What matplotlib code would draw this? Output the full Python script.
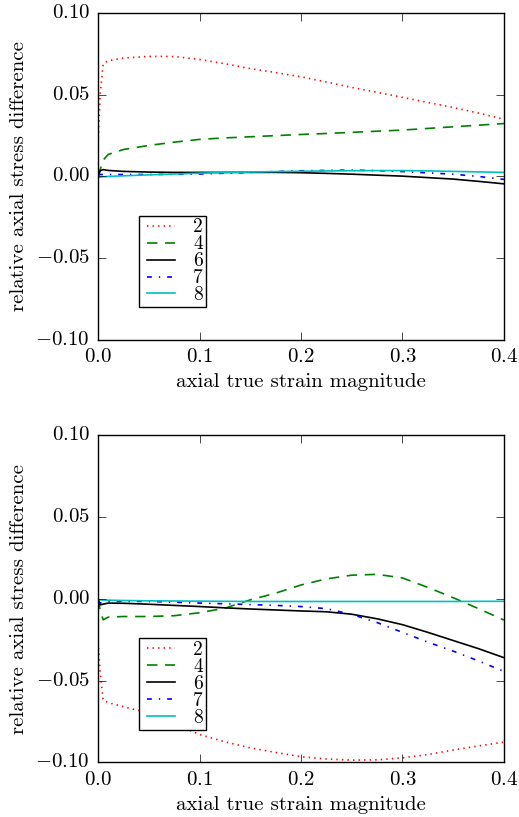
import numpy as np
import matplotlib
matplotlib.use("Agg")
import matplotlib.pyplot as plt

plt.style.use("classic")
plt.rcParams["font.family"] = "serif"
plt.rcParams["font.serif"] = ["cmr10"]
plt.rcParams["mathtext.fontset"] = "cm"
plt.rcParams["axes.formatter.use_mathtext"] = True
plt.rcParams["axes.unicode_minus"] = True

# strain grid
strain = [0, 0.002, 0.005, 0.01, 0.025, 0.05, 0.075, 0.1, 0.125, 0.15, 0.175,
          0.2, 0.225, 0.25, 0.275, 0.3, 0.325, 0.35, 0.375, 0.4]

labels = ["2", "4", "6", "7", "8"]

# upper panel
top_2 = [0.020, 0.050, 0.069, 0.0708, 0.0725, 0.0735, 0.0734, 0.0716, 0.069, 0.066,
         0.0636, 0.061, 0.0578, 0.0545, 0.0515, 0.0484, 0.0453, 0.0422, 0.0388, 0.035]
top_4 = [0.0, 0.004, 0.010, 0.0135, 0.0165, 0.019, 0.021, 0.0227, 0.0236, 0.0243,
         0.025, 0.0257, 0.0263, 0.027, 0.0277, 0.0284, 0.0294, 0.0304, 0.0314, 0.0324]
top_6 = [0.0, 0.0035, 0.0042, 0.0037, 0.0031, 0.0027, 0.0025, 0.0025, 0.0025, 0.0025,
         0.0025, 0.0023, 0.0019, 0.0014, 0.0008, 0.0002, -0.0007, -0.0016, -0.003, -0.0045]
top_7 = [0.001, 0.0012, 0.0012, 0.0012, 0.0012, 0.0012, 0.0013, 0.0015, 0.002, 0.0025,
         0.003, 0.0035, 0.0037, 0.0039, 0.0036, 0.003, 0.0022, 0.0014, 0.0, -0.0018]
top_8 = [-0.0005, -0.0004, -0.0002, 0.0, 0.0004, 0.001, 0.0015, 0.002, 0.0024, 0.0027,
         0.003, 0.0032, 0.0034, 0.0035, 0.0036, 0.0036, 0.0034, 0.0031, 0.0028, 0.0025]

# lower panel
bot_2 = [-0.0267, -0.045, -0.062, -0.0635, -0.066, -0.0698, -0.0765, -0.083, -0.0875, -0.0912,
         -0.094, -0.0966, -0.098, -0.0987, -0.0985, -0.0973, -0.0953, -0.0925, -0.090, -0.0877]
bot_4 = [0.0, -0.007, -0.0128, -0.0112, -0.0108, -0.0108, -0.0103, -0.0085, -0.0057, -0.0006,
         0.0035, 0.0085, 0.0122, 0.0145, 0.015, 0.0128, 0.007, 0.0007, -0.006, -0.013]
bot_6 = [0.0, -0.0037, -0.0032, -0.0026, -0.0027, -0.0033, -0.004, -0.0047, -0.0055, -0.0062,
         -0.0068, -0.0074, -0.0079, -0.0094, -0.0122, -0.0158, -0.0205, -0.0255, -0.0305, -0.036]
bot_7 = [-0.001, -0.0026, -0.002, -0.0016, -0.0015, -0.0016, -0.002, -0.0026, -0.003, -0.0035,
         -0.004, -0.0047, -0.006, -0.0095, -0.0145, -0.0205, -0.0265, -0.032, -0.038, -0.0444]
bot_8 = [-0.0005, -0.0006, -0.0007, -0.0008, -0.001, -0.0012, -0.0013, -0.0014, -0.0015, -0.0016,
         -0.0016, -0.0016, -0.0016, -0.0016, -0.0016, -0.0016, -0.0016, -0.0016, -0.0015, -0.0015]

styles = [("r", (0, (1, 3))), ("g", (0, (7.5, 5.5))), ("k", "-"),
          ("b", (0, (3.5, 5, 1, 5))), ("c", "-")]

fig = plt.figure(figsize=(5.19, 8.17), dpi=100)
ax1 = fig.add_axes([0.189, 0.584, 0.782, 0.400])
ax2 = fig.add_axes([0.189, 0.067, 0.782, 0.400])

for ax, series in [(ax1, [top_2, top_4, top_6, top_7, top_8]),
                   (ax2, [bot_2, bot_4, bot_6, bot_7, bot_8])]:
    for (c, ls), y, lab in zip(styles, series, labels):
        ax.plot(strain, y, color=c, linestyle=ls, linewidth=1.2, label=lab)
    ax.set_xlim(0, 0.4)
    ax.set_ylim(-0.1, 0.1)
    ax.set_xticks([0.0, 0.1, 0.2, 0.3, 0.4])
    ax.set_yticks([-0.1, -0.05, 0.0, 0.05, 0.1])
    ax.tick_params(labelsize=15, length=6, pad=6)
    ax.set_xlabel("axial true strain magnitude", fontsize=15)
    ax.set_ylabel("relative axial stress difference", fontsize=15)
    ax.legend(loc="lower left", bbox_to_anchor=(0.1, 0.1), borderaxespad=0,
              fontsize=14, handlelength=2.0, handletextpad=0.65,
              labelspacing=-0.05, borderpad=0.15, frameon=True, fancybox=False)

fig.savefig("out.png", dpi=100)
